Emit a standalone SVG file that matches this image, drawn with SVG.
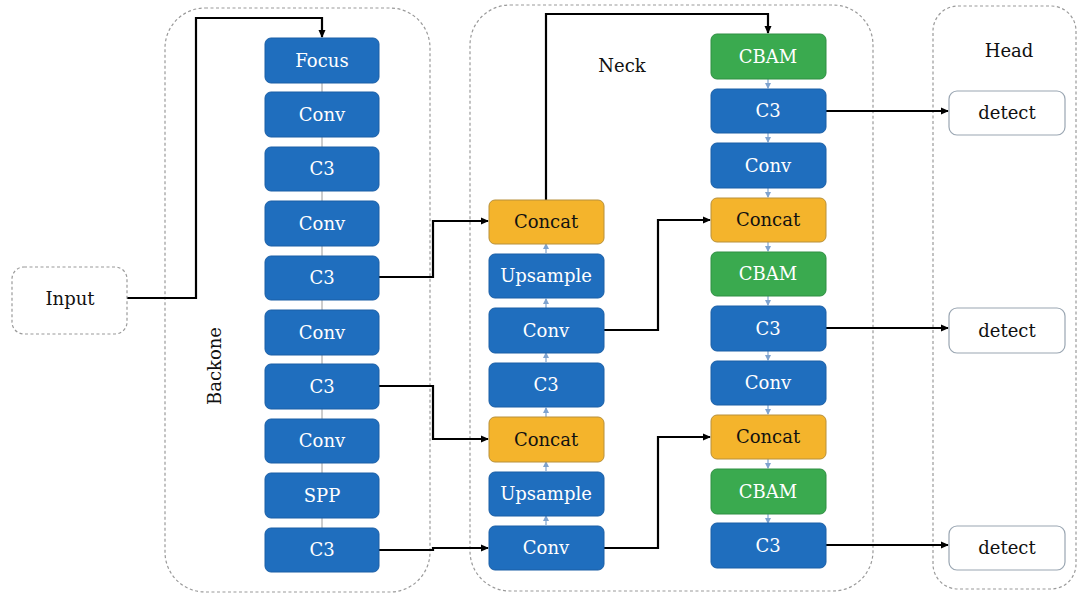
<svg xmlns="http://www.w3.org/2000/svg" width="1078" height="596" viewBox="0 0 1078 596">
<style>
.grp{fill:none;stroke:#9a9a9a;stroke-width:1.2;stroke-dasharray:3 2.5}
.b{fill:#1f6ebe;stroke:#1a5ea6;stroke-width:1}
.g{fill:#3aaa4f;stroke:#2f8f42;stroke-width:1}
.o{fill:#f4b42c;stroke:#b8903a;stroke-width:1}
.d{fill:#fff;stroke:#9aa6b2;stroke-width:1.2}
.t{font-family:"DejaVu Serif","Liberation Serif",serif;font-size:18px;text-anchor:middle}
.w{fill:#fff}
.k{fill:#111}
.lab{font-family:"DejaVu Serif","Liberation Serif",serif;font-size:18px;fill:#111;text-anchor:middle}
.con{fill:none;stroke:#000;stroke-width:2.2}
.thin{stroke:#9a9a9a;stroke-width:1}
.sm{stroke:#7fa3cf;stroke-width:1.2}
</style>
<defs>
<marker id="ah" markerWidth="8" markerHeight="8" refX="7" refY="4" orient="auto" markerUnits="userSpaceOnUse">
<path d="M0,0.5 L8,4 L0,7.5 Z" fill="#000"/>
</marker>
<marker id="sa" markerWidth="6" markerHeight="6" refX="5" refY="3" orient="auto" markerUnits="userSpaceOnUse">
<path d="M0,0 L6,3 L0,6 Z" fill="#7fa3cf"/>
</marker>
</defs>
<rect width="1078" height="596" fill="#fff"/>

<!-- containers -->
<g id="backbone">
<rect class="grp" x="165" y="8" width="265" height="584" rx="40"/>
<text class="lab" transform="translate(221,366) rotate(-90)">Backone</text>
</g>
<g id="neck">
<rect class="grp" x="470" y="5" width="403" height="586" rx="40"/>
<text class="lab" x="622" y="72">Neck</text>
</g>
<g id="head">
<rect class="grp" x="933" y="6" width="143" height="583" rx="25"/>
<text class="lab" x="1009" y="57">Head</text>
</g>

<!-- connectors -->
<g id="connectors">
<!-- backbone thin links -->
<line class="thin" x1="322" y1="83" x2="322" y2="92"/>
<line class="thin" x1="322" y1="137" x2="322" y2="147"/>
<line class="thin" x1="322" y1="191" x2="322" y2="201"/>
<line class="thin" x1="322" y1="246" x2="322" y2="256"/>
<line class="thin" x1="322" y1="300" x2="322" y2="310"/>
<line class="thin" x1="322" y1="355" x2="322" y2="364"/>
<line class="thin" x1="322" y1="409" x2="322" y2="419"/>
<line class="thin" x1="322" y1="463" x2="322" y2="473"/>
<line class="thin" x1="322" y1="518" x2="322" y2="528"/>
<!-- neck left column small up arrows -->
<line class="sm" x1="546" y1="253" x2="546" y2="244" marker-end="url(#sa)"/>
<line class="sm" x1="546" y1="308" x2="546" y2="299" marker-end="url(#sa)"/>
<line class="sm" x1="546" y1="362" x2="546" y2="353" marker-end="url(#sa)"/>
<line class="sm" x1="546" y1="417" x2="546" y2="408" marker-end="url(#sa)"/>
<line class="sm" x1="546" y1="471" x2="546" y2="462" marker-end="url(#sa)"/>
<line class="sm" x1="546" y1="525" x2="546" y2="516" marker-end="url(#sa)"/>
<!-- neck right column small down arrows -->
<line class="sm" x1="768" y1="79" x2="768" y2="88" marker-end="url(#sa)"/>
<line class="sm" x1="768" y1="133" x2="768" y2="142" marker-end="url(#sa)"/>
<line class="sm" x1="768" y1="188" x2="768" y2="197" marker-end="url(#sa)"/>
<line class="sm" x1="768" y1="242" x2="768" y2="251" marker-end="url(#sa)"/>
<line class="sm" x1="768" y1="296" x2="768" y2="305" marker-end="url(#sa)"/>
<line class="sm" x1="768" y1="351" x2="768" y2="360" marker-end="url(#sa)"/>
<line class="sm" x1="768" y1="405" x2="768" y2="414" marker-end="url(#sa)"/>
<line class="sm" x1="768" y1="459" x2="768" y2="468" marker-end="url(#sa)"/>
<line class="sm" x1="768" y1="514" x2="768" y2="523" marker-end="url(#sa)"/>
<!-- main connectors -->
<path class="con" d="M127,298 H196 V18 H322 V37" marker-end="url(#ah)"/>
<path class="con" d="M379,277 H433 V221 H488" marker-end="url(#ah)"/>
<path class="con" d="M379,386 H433 V439 H488" marker-end="url(#ah)"/>
<path class="con" d="M379,550 H433 V548 H488" marker-end="url(#ah)"/>
<path class="con" d="M546,200 V14 H768 V33" marker-end="url(#ah)"/>
<path class="con" d="M604,330 H658 V220 H710" marker-end="url(#ah)"/>
<path class="con" d="M604,548 H658 V437 H710" marker-end="url(#ah)"/>
<path class="con" d="M826,111 H948" marker-end="url(#ah)"/>
<path class="con" d="M826,328 H948" marker-end="url(#ah)"/>
<path class="con" d="M826,545 H948" marker-end="url(#ah)"/>
</g>

<!-- input -->
<g id="input">
<rect class="grp" x="12" y="267" width="115" height="67" rx="12"/>
<text class="t k" x="70" y="305">Input</text>
</g>

<!-- backbone nodes -->
<g id="b-focus"><rect class="b" x="265" y="38" width="114" height="45" rx="6"/><text class="t w" x="322" y="67">Focus</text></g>
<g id="b-conv1"><rect class="b" x="265" y="92" width="114" height="45" rx="6"/><text class="t w" x="322" y="121">Conv</text></g>
<g id="b-c3-1"><rect class="b" x="265" y="147" width="114" height="44" rx="6"/><text class="t w" x="322" y="175">C3</text></g>
<g id="b-conv2"><rect class="b" x="265" y="201" width="114" height="45" rx="6"/><text class="t w" x="322" y="230">Conv</text></g>
<g id="b-c3-2"><rect class="b" x="265" y="256" width="114" height="44" rx="6"/><text class="t w" x="322" y="284">C3</text></g>
<g id="b-conv3"><rect class="b" x="265" y="310" width="114" height="45" rx="6"/><text class="t w" x="322" y="339">Conv</text></g>
<g id="b-c3-3"><rect class="b" x="265" y="364" width="114" height="45" rx="6"/><text class="t w" x="322" y="393">C3</text></g>
<g id="b-conv4"><rect class="b" x="265" y="419" width="114" height="44" rx="6"/><text class="t w" x="322" y="447">Conv</text></g>
<g id="b-spp"><rect class="b" x="265" y="473" width="114" height="45" rx="6"/><text class="t w" x="322" y="502">SPP</text></g>
<g id="b-c3-4"><rect class="b" x="265" y="528" width="114" height="44" rx="6"/><text class="t w" x="322" y="556">C3</text></g>

<!-- neck left column -->
<g id="n-concat1"><rect class="o" x="489" y="200" width="115" height="44" rx="6"/><text class="t k" x="546" y="228">Concat</text></g>
<g id="n-up1"><rect class="b" x="489" y="254" width="115" height="44" rx="6"/><text class="t w" x="546" y="282">Upsample</text></g>
<g id="n-conv1"><rect class="b" x="489" y="308" width="115" height="45" rx="6"/><text class="t w" x="546" y="337">Conv</text></g>
<g id="n-c3"><rect class="b" x="489" y="363" width="115" height="44" rx="6"/><text class="t w" x="546" y="391">C3</text></g>
<g id="n-concat2"><rect class="o" x="489" y="417" width="115" height="45" rx="6"/><text class="t k" x="546" y="446">Concat</text></g>
<g id="n-up2"><rect class="b" x="489" y="472" width="115" height="44" rx="6"/><text class="t w" x="546" y="500">Upsample</text></g>
<g id="n-conv2"><rect class="b" x="489" y="526" width="115" height="44" rx="6"/><text class="t w" x="546" y="554">Conv</text></g>

<!-- neck right column -->
<g id="r-cbam1"><rect class="g" x="711" y="34" width="115" height="45" rx="6"/><text class="t w" x="768" y="63">CBAM</text></g>
<g id="r-c3-1"><rect class="b" x="711" y="89" width="115" height="44" rx="6"/><text class="t w" x="768" y="117">C3</text></g>
<g id="r-conv1"><rect class="b" x="711" y="143" width="115" height="45" rx="6"/><text class="t w" x="768" y="172">Conv</text></g>
<g id="r-concat1"><rect class="o" x="711" y="198" width="115" height="44" rx="6"/><text class="t k" x="768" y="226">Concat</text></g>
<g id="r-cbam2"><rect class="g" x="711" y="252" width="115" height="44" rx="6"/><text class="t w" x="768" y="280">CBAM</text></g>
<g id="r-c3-2"><rect class="b" x="711" y="306" width="115" height="45" rx="6"/><text class="t w" x="768" y="335">C3</text></g>
<g id="r-conv2"><rect class="b" x="711" y="361" width="115" height="44" rx="6"/><text class="t w" x="768" y="389">Conv</text></g>
<g id="r-concat2"><rect class="o" x="711" y="415" width="115" height="44" rx="6"/><text class="t k" x="768" y="443">Concat</text></g>
<g id="r-cbam3"><rect class="g" x="711" y="469" width="115" height="45" rx="6"/><text class="t w" x="768" y="498">CBAM</text></g>
<g id="r-c3-3"><rect class="b" x="711" y="523" width="115" height="45" rx="6"/><text class="t w" x="768" y="552">C3</text></g>

<!-- head -->
<g id="h-detect1"><rect class="d" x="949" y="91" width="116" height="44" rx="8"/><text class="t k" x="1007" y="119">detect</text></g>
<g id="h-detect2"><rect class="d" x="949" y="308" width="116" height="45" rx="8"/><text class="t k" x="1007" y="337">detect</text></g>
<g id="h-detect3"><rect class="d" x="949" y="526" width="116" height="44" rx="8"/><text class="t k" x="1007" y="554">detect</text></g>
</svg>
